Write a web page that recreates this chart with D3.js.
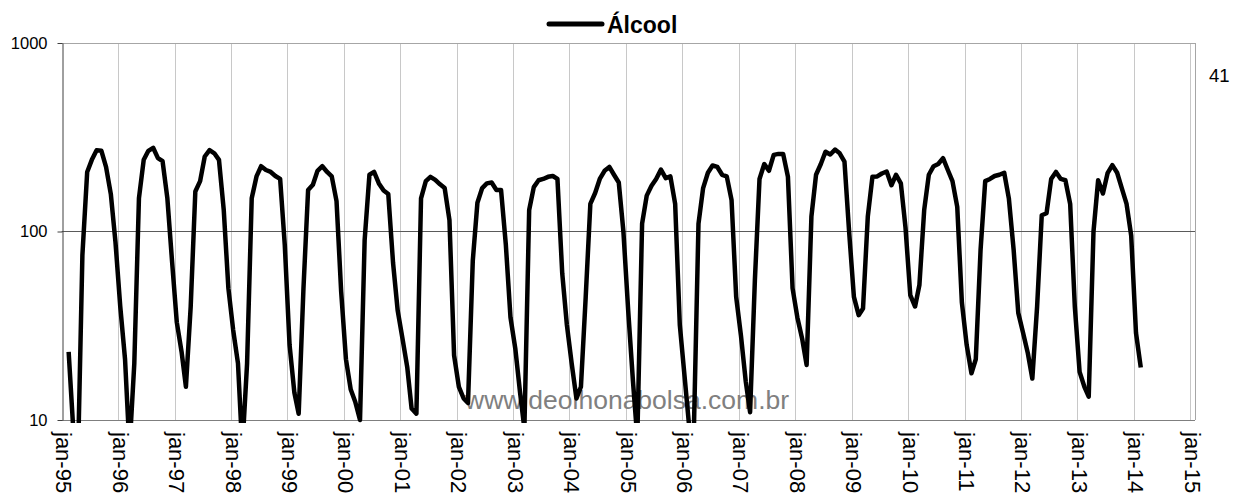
<!DOCTYPE html>
<html>
<head>
<meta charset="utf-8">
<script src="https://cdn.jsdelivr.net/npm/d3@7"></script>
<style>
  body { margin: 0; background: #fff; }
  svg { display: block; font-family: "Liberation Sans", Arial, sans-serif; }
</style>
</head>
<body>
<div id="chart"></div>
<script>
// monthly series, first value is feb-95
var firstYear = 1995, firstMonth = 1;
var alcool = [
  23, 9.5, 5.5, 75, 207, 240, 270, 268, 220, 158, 88,            // 1995
  40, 21, 7, 20, 150, 240, 268, 278, 245, 236, 150, 70,          // 1996
  33, 23, 15, 40, 163, 185, 250, 270, 260, 240, 130, 50,         // 1997
  30, 20, 7, 20, 150, 196, 222, 212, 207, 197, 190, 85,          // 1998
  25, 14, 10.8, 50, 166, 177, 210, 222, 207, 196, 145, 48,       // 1999
  21, 14.5, 12.5, 10, 90, 200, 207, 180, 165, 158, 68, 38,       // 2000
  27, 19, 11.5, 10.8, 150, 185, 195, 188, 178, 170, 115, 22,     // 2001
  15, 13, 12.3, 70, 142, 170, 180, 182, 166, 166, 85, 35,        // 2002
  24, 14, 9, 130, 172, 187, 190, 195, 197, 190, 60, 32,          // 2003
  20, 13, 15, 45, 140, 160, 190, 210, 220, 200, 182, 100,        // 2004
  38, 16, 8, 110, 155, 175, 190, 213, 192, 196, 140, 32,         // 2005
  17, 9, 8, 110, 170, 205, 224, 220, 200, 196, 147, 45,          // 2006
  28, 16, 11, 55, 190, 228, 210, 255, 258, 258, 195, 50,         // 2007
  35, 27, 19.6, 120, 200, 228, 265, 256, 272, 260, 235, 100,     // 2008
  45, 36, 39, 120, 195, 196, 203, 208, 176, 200, 180, 105,       // 2009
  46, 40, 52, 130, 200, 222, 228, 245, 212, 185, 135, 42,        // 2010
  25, 17.7, 21, 80, 185, 190, 197, 200, 205, 150, 80, 37,        // 2011
  29, 22.6, 16.6, 40, 122, 125, 190, 207, 190, 187, 140, 40,     // 2012
  18, 15, 13.3, 100, 187, 159, 204, 225, 205, 170, 140, 95,      // 2013
  29, 19                                                         // 2014
];
var yTicks = [10, 100, 1000];
var xTickLabels = ["jan-95","jan-96","jan-97","jan-98","jan-99","jan-00","jan-01",
  "jan-02","jan-03","jan-04","jan-05","jan-06","jan-07","jan-08","jan-09","jan-10",
  "jan-11","jan-12","jan-13","jan-14","jan-15"];
var seriesName = "Álcool";
var sideNote = "41";
var watermark = "www.deolhonabolsa.com.br";

var width = 1234, height = 497;
var plot = { left: 61.7, right: 1195, top: 43, bottom: 420 };

var data = alcool.map(function(v, i) {
  return { date: new Date(firstYear, firstMonth + i, 15), value: v };
});

var x = d3.scaleTime()
  .domain([new Date(1995, 0, 1), new Date(2015, 1, 1)])
  .range([plot.left, plot.right]);

var y = d3.scaleLog()
  .domain([10, 1000])
  .range([plot.bottom, plot.top]);

var svg = d3.select("#chart").append("svg")
  .attr("width", width)
  .attr("height", height);

svg.append("defs").append("clipPath")
  .attr("id", "plotclip")
  .append("rect")
  .attr("x", plot.left)
  .attr("y", plot.top - 3)
  .attr("width", plot.right - plot.left)
  .attr("height", plot.bottom - plot.top + 6);

var tickDates = xTickLabels.map(function(d, i) { return new Date(1995 + i, 0, 1); });

// vertical gridlines
svg.append("g").selectAll("line")
  .data(tickDates.slice(1))
  .enter().append("line")
  .attr("x1", function(d) { return Math.round(x(d)) + 0.5; })
  .attr("x2", function(d) { return Math.round(x(d)) + 0.5; })
  .attr("y1", plot.top)
  .attr("y2", plot.bottom)
  .attr("stroke", "#c8c8c8")
  .attr("stroke-width", 1);

// plot border: top and right
svg.append("line")
  .attr("x1", plot.left).attr("x2", plot.right)
  .attr("y1", plot.top + 0.5).attr("y2", plot.top + 0.5)
  .attr("stroke", "#a6a6a6");
svg.append("line")
  .attr("x1", plot.right + 0.5).attr("x2", plot.right + 0.5)
  .attr("y1", plot.top).attr("y2", plot.bottom)
  .attr("stroke", "#a6a6a6");

// horizontal gridline at 100
svg.append("line")
  .attr("x1", plot.left).attr("x2", plot.right)
  .attr("y1", Math.round(y(100)) + 0.5).attr("y2", Math.round(y(100)) + 0.5)
  .attr("stroke", "#5a5a5a")
  .attr("stroke-width", 1);

// bottom axis line
svg.append("line")
  .attr("x1", plot.left).attr("x2", plot.right)
  .attr("y1", plot.bottom + 0.5).attr("y2", plot.bottom + 0.5)
  .attr("stroke", "#7f7f7f");

// y axis
var yAxis = d3.axisLeft(y)
  .tickValues(yTicks)
  .tickFormat(d3.format("d"))
  .tickSize(5)
  .tickSizeOuter(0)
  .tickPadding(10);

var yG = svg.append("g")
  .attr("transform", "translate(" + (Math.round(plot.left) + 0.5) + ",0)")
  .call(yAxis);
yG.select(".domain").attr("stroke", "#404040");
yG.selectAll(".tick line").attr("stroke", "#404040");
yG.selectAll(".tick text")
  .attr("font-size", "16.5px")
  .attr("font-family", "Liberation Sans, Arial, sans-serif")
  .attr("fill", "#000");

// x labels, rotated
svg.append("g").selectAll("text")
  .data(tickDates)
  .enter().append("text")
  .attr("transform", function(d) { return "translate(" + x(d) + "," + (plot.bottom + 12) + ") rotate(90)"; })
  .attr("dy", "0.25em")
  .attr("font-size", "22px")
  .attr("fill", "#000")
  .text(function(d, i) { return xTickLabels[i]; });

// watermark, under the series
svg.append("text")
  .attr("x", 465)
  .attr("y", 409)
  .attr("font-size", "26.5px")
  .attr("fill", "#808080")
  .text(watermark);

// series line
var line = d3.line()
  .x(function(d) { return x(d.date); })
  .y(function(d) { return y(d.value); });

svg.append("path")
  .datum(data)
  .attr("clip-path", "url(#plotclip)")
  .attr("d", line)
  .attr("fill", "none")
  .attr("stroke", "#000")
  .attr("stroke-width", 4.5)
  .attr("stroke-linejoin", "round");

// legend
svg.append("line")
  .attr("x1", 549).attr("x2", 602)
  .attr("y1", 24).attr("y2", 24)
  .attr("stroke", "#000")
  .attr("stroke-width", 5)
  .attr("stroke-linecap", "round");

svg.append("text")
  .attr("x", 607)
  .attr("y", 33)
  .attr("font-size", "23px")
  .attr("font-weight", "bold")
  .attr("fill", "#000")
  .text(seriesName);

svg.append("text")
  .attr("x", 1209)
  .attr("y", 82)
  .attr("font-size", "18.5px")
  .attr("fill", "#000")
  .text(sideNote);
</script>
</body>
</html>
